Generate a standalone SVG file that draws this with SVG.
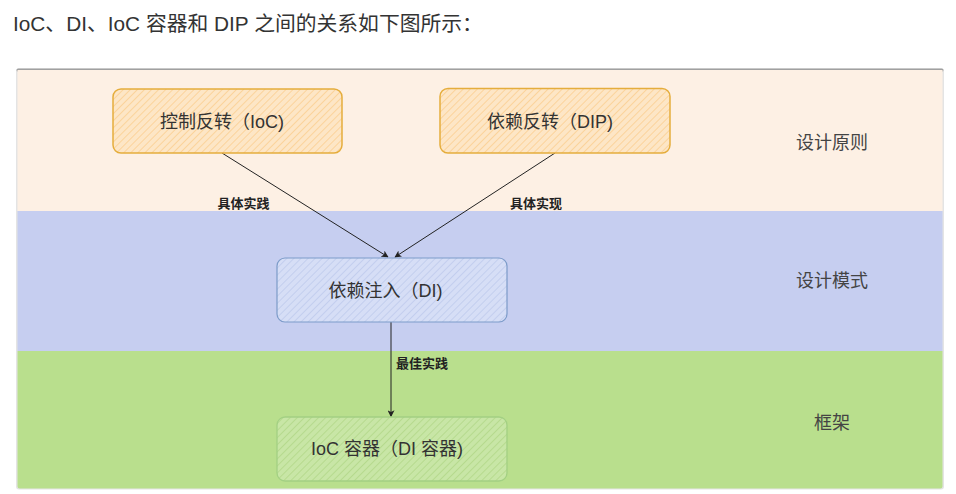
<svg xmlns="http://www.w3.org/2000/svg" width="956" height="494" viewBox="0 0 956 494">
  <style>
    .title { font-family: "Liberation Sans", "Noto Sans CJK SC", sans-serif; font-size: 20.8px; fill: #333333; }
    .node-text { font-family: "Liberation Sans", "Noto Sans CJK SC", sans-serif; font-size: 18px; fill: #333333; text-anchor: middle; dominant-baseline: central; }
    .band-text { font-family: "Noto Sans CJK SC", "Liberation Sans", sans-serif; font-size: 18px; fill: #444444; text-anchor: middle; dominant-baseline: central; }
    .edge-text { font-family: "Noto Sans CJK SC", "Liberation Sans", sans-serif; font-size: 13px; font-weight: bold; fill: #222222; text-anchor: middle; dominant-baseline: central; }
    .edge { stroke: #222222; stroke-width: 1; fill: none; }
  </style>
  <defs>
    <pattern id="hatch-orange" width="5" height="5" patternUnits="userSpaceOnUse" patternTransform="rotate(45)">
      <rect width="5" height="5" fill="#fde6c6"/>
      <line x1="0" y1="0" x2="0" y2="5" stroke="#fbd39b" stroke-width="2"/>
    </pattern>
    <pattern id="hatch-blue" width="5" height="5" patternUnits="userSpaceOnUse" patternTransform="rotate(45)">
      <rect width="5" height="5" fill="#d6def6"/>
      <line x1="0" y1="0" x2="0" y2="5" stroke="#c3ceee" stroke-width="2"/>
    </pattern>
    <pattern id="hatch-green" width="5" height="5" patternUnits="userSpaceOnUse" patternTransform="rotate(45)">
      <rect width="5" height="5" fill="#c8e6a6"/>
      <line x1="0" y1="0" x2="0" y2="5" stroke="#b6da8e" stroke-width="2"/>
    </pattern>
    <marker id="arrow" viewBox="0 0 10 10" refX="9" refY="5" markerWidth="7" markerHeight="7" orient="auto" markerUnits="userSpaceOnUse">
      <path d="M0,0 L10,5 L0,10 L2.5,5 Z" fill="#222222"/>
    </marker>
  </defs>

  <rect width="956" height="494" fill="#ffffff"/>
  <text class="title" x="13" y="31">IoC、DI、IoC 容器和 DIP 之间的关系如下图所示：</text>

  <g id="frame">
    <rect x="16" y="68.5" width="928" height="421" rx="3" fill="#e4e4e4"/>
    <rect x="16.5" y="68.5" width="927" height="3" rx="1.5" fill="#a0a0a0"/>
    <rect x="17.5" y="70" width="925" height="141" fill="#fdf0e4"/>
    <rect x="17.5" y="211" width="925" height="140" fill="#c6cef0"/>
    <path d="M17.5,351 H942.5 V486 a2.5,2.5 0 0 1 -2.5,2.5 H20 a2.5,2.5 0 0 1 -2.5,-2.5 Z" fill="#b9df8d"/>
  </g>

  <g id="band-labels">
    <text class="band-text" x="832" y="141">设计原则</text>
    <text class="band-text" x="832" y="279">设计模式</text>
    <text class="band-text" x="832" y="421">框架</text>
  </g>

  <g id="connectors">
    <line class="edge" x1="222" y1="153" x2="388" y2="257" marker-end="url(#arrow)"/>
    <line class="edge" x1="555" y1="153" x2="395" y2="257" marker-end="url(#arrow)"/>
    <line class="edge" x1="391" y1="322" x2="391" y2="416.5" marker-end="url(#arrow)"/>
    <text class="edge-text" x="243.5" y="202">具体实践</text>
    <text class="edge-text" x="536" y="202">具体实现</text>
    <text class="edge-text" x="422" y="362">最佳实践</text>
  </g>

  <g id="node-ioc">
    <rect x="113" y="89" width="229" height="64" rx="8" fill="url(#hatch-orange)" stroke="#e5ad3c" stroke-width="1.5"/>
    <text class="node-text" x="222" y="122">控制反转（IoC)</text>
  </g>
  <g id="node-dip">
    <rect x="440" y="88.5" width="230" height="64.5" rx="8" fill="url(#hatch-orange)" stroke="#e5ad3c" stroke-width="1.5"/>
    <text class="node-text" x="550" y="122">依赖反转（DIP)</text>
  </g>
  <g id="node-di">
    <rect x="277" y="258" width="230" height="64" rx="8" fill="url(#hatch-blue)" stroke="#7c9bc9" stroke-width="1.2"/>
    <text class="node-text" x="385.5" y="291">依赖注入（DI)</text>
  </g>
  <g id="node-container">
    <rect x="277" y="417" width="230" height="64" rx="8" fill="url(#hatch-green)" stroke="#a3d083" stroke-width="1.3"/>
    <text class="node-text" x="387" y="449">IoC 容器（DI 容器)</text>
  </g>
</svg>
